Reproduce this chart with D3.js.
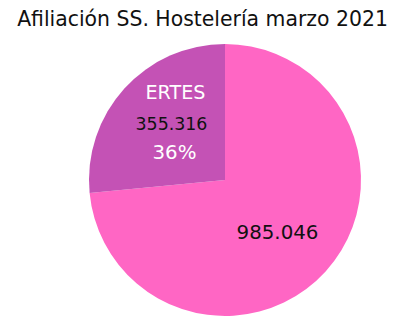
<!DOCTYPE html>
<html><head><meta charset="utf-8">
<script src="https://cdn.jsdelivr.net/npm/d3@7"></script>
<style>html,body{margin:0;padding:0;background:#fff;}svg{display:block;font-family:"DejaVu Sans",sans-serif;}</style>
</head><body>
<script>
const title = "Afiliación SS. Hostelería marzo 2021";
const categories = ["Afiliados", "ERTES"];
const values = [985046, 355316];
const valueLabels = ["985.046", "355.316"];
const pctLabel = "36%";
const colors = ["#FF66C4", "#C452B5"];

const W = 405, H = 329;
const svg = d3.select("body").append("svg").attr("width", W).attr("height", H);

function fit(sel, target) {
  const w = sel.node().getComputedTextLength();
  const fs = parseFloat(sel.attr("font-size"));
  sel.attr("font-size", fs * target / w);
}

const t = svg.append("text").attr("x", 202.5).attr("y", 26).attr("text-anchor", "middle")
  .attr("font-size", 21).attr("fill", "#111").text(title);
fit(t, 371);

const cx = 225, cy = 180, R = 136;
const g = svg.append("g").attr("transform", `translate(${cx},${cy})`);
const pie = d3.pie().sort(null).value(d => d)(values);
const arc = d3.arc().innerRadius(0).outerRadius(R);
const labelArc = d3.arc().innerRadius(71).outerRadius(71);

g.selectAll("path").data(pie).join("path")
  .attr("d", arc).attr("fill", (d, i) => colors[i]);

// Pink slice label
const c0 = labelArc.centroid(pie[0]);
const l0 = g.append("text").attr("x", c0[0]).attr("y", c0[1] + 11).attr("text-anchor", "middle")
  .attr("font-size", 20).attr("fill", "#111").text(valueLabels[0]);
fit(l0, 82);

// Purple slice labels
const c1 = labelArc.centroid(pie[1]);
const a = g.append("text").attr("x", c1[0] + 3).attr("y", c1[1] - 33).attr("text-anchor", "middle")
  .attr("font-size", 18).attr("fill", "#fff").text(categories[1]);
fit(a, 60);
const b = g.append("text").attr("x", c1[0] - 1).attr("y", c1[1] - 2).attr("text-anchor", "middle")
  .attr("font-size", 19).attr("fill", "#111").text(valueLabels[1]);
fit(b, 72);
const c = g.append("text").attr("x", c1[0] + 2).attr("y", c1[1] + 27).attr("text-anchor", "middle")
  .attr("font-size", 18).attr("fill", "#fff").text(pctLabel);
fit(c, 44);
</script>
</body></html>
